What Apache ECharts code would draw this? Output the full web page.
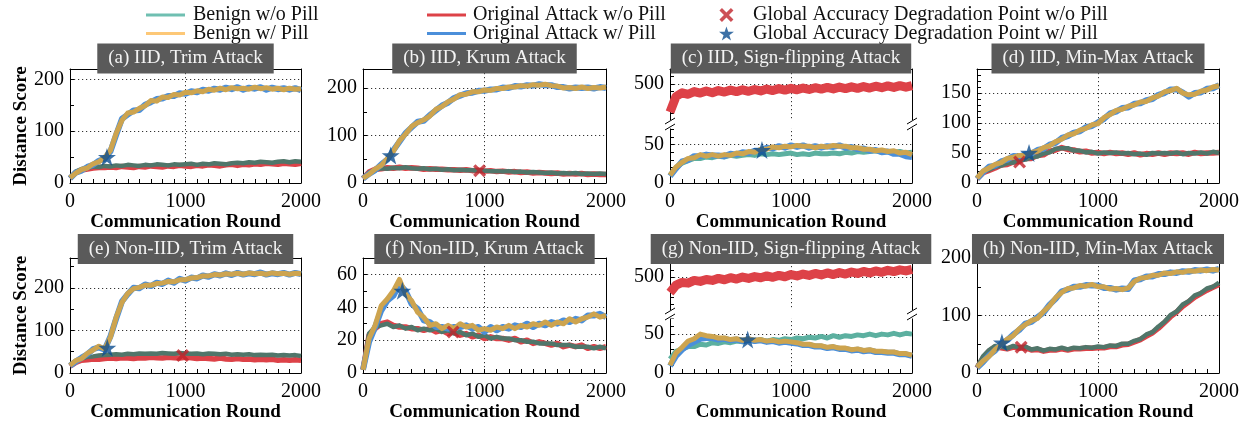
<!DOCTYPE html>
<html><head><meta charset="utf-8">
<script src="https://cdn.jsdelivr.net/npm/echarts@6/dist/echarts.min.js"></script>
<style>html,body{margin:0;padding:0;background:#fff}#c{width:1250px;height:426px}</style>
</head><body><div id="c"></div>
<script>
// ---------- data ----------
const rounds = [0,50,100,150,200,250,300,350,400,450,500,550,600,650,700,750,800,850,900,950,1000,1050,1100,1150,1200,1250,1300,1350,1400,1450,1500,1550,1600,1650,1700,1750,1800,1850,1900,1950,2000];
const xTickLabels = [0,1000,2000];

// (a) IID, Trim Attack
const benignWoA = [10,22,27,29,32,31,33,32,34,33,35,34,33,35,34,36,35,34,36,35,36,37,35,37,36,38,37,36,38,39,38,40,39,41,40,39,41,42,40,42,41];
const benignWA  = [10,19,26,29,37,41,49,63,96,121,135,137,144,149,159,158,166,165,171,170,175,174,178,176,181,179,183,180,184,182,183,181,185,182,184,181,183,180,183,181,182];
const attackWoA = [9,20,25,27,29,30,30,31,30,32,31,30,32,31,33,32,31,33,32,34,33,32,34,33,35,34,33,35,36,34,36,35,37,36,38,37,36,38,37,36,38];
const attackWA  = [9,20,24,31,35,43,47,61,93,124,132,140,141,151,156,162,163,168,168,173,172,177,175,180,178,182,180,184,181,185,180,184,182,185,180,184,181,183,180,183,179];
const starA = [320,50];

// (b) IID, Krum Attack
const benignWoB = [10,22,28,31,30,32,31,33,31,30,31,29,30,28,29,27,28,27,27,26,26,25,25,24,25,23,24,22,23,22,21,22,20,21,20,21,19,20,19,20,19];
const benignWB  = [10,18,29,37,51,67,89,103,119,127,133,141,155,161,171,177,186,187,192,192,196,195,199,199,202,202,205,204,207,206,208,205,204,200,201,199,202,199,201,200,202];
const attackWoB = [9,23,29,30,32,31,33,31,32,31,29,30,29,29,28,28,27,28,26,27,25,26,24,25,23,24,22,23,21,22,21,20,21,19,20,19,20,18,19,18,18];
const attackWB  = [9,19,27,39,49,69,87,105,117,129,131,143,153,163,169,179,184,189,190,194,194,197,197,201,200,204,203,206,205,208,206,206,202,202,199,201,200,201,199,202,200];
const starB = [228,58];
const crossB = [960,26];

// (c) IID, Sign-flipping Attack
const benignWoC = [10,20,26,29,32,32,34,33,35,34,36,35,36,37,36,38,37,38,37,38,39,37,38,37,39,38,38,39,38,40,39,41,40,41,42,40,41,40,41,39,40];
const benignWC  = [10,21,27,32,33,37,35,37,35,37,36,39,38,41,40,44,44,47,46,48,47,49,48,48,46,48,47,49,48,48,46,46,44,44,42,43,41,42,39,40,37];
const attackWoC = [310,415,440,430,448,438,452,440,455,445,458,448,460,450,462,452,465,455,468,458,470,460,472,462,474,465,476,466,478,468,480,470,482,472,484,474,486,476,488,478,488];
const attackWC  = [9,19,28,30,35,35,37,36,36,35,38,37,40,39,42,42,46,45,48,46,49,47,49,46,48,46,48,47,49,46,47,44,45,42,43,40,41,38,38,35,34];
const starC = [760,43];

// (d) IID, Min-Max Attack
const benignWoD = [8,19,22,27,29,33,34,38,39,43,44,49,51,57,58,58,54,54,51,52,49,51,50,51,49,50,48,49,47,50,49,50,49,51,48,50,49,51,49,52,50];
const benignWD  = [8,20,25,31,34,41,43,46,46,51,53,59,62,69,73,80,82,88,91,97,99,109,114,121,123,128,130,135,136,142,145,152,154,158,150,147,148,153,155,160,162];
const attackWoD = [7,17,21,25,30,31,35,36,41,41,46,47,53,55,59,56,55,52,53,50,51,49,51,49,50,48,50,47,49,48,50,48,50,49,50,48,51,49,50,50,51];
const attackWD  = [7,18,27,29,36,39,45,44,48,49,55,57,64,67,75,78,84,86,93,95,101,107,116,119,125,126,132,133,138,140,147,150,156,156,151,144,150,151,157,158,163];
const starD = [430,50];
const crossD = [352,35];

// (e) Non-IID, Trim Attack
const benignWoE = [18,28,34,38,39,41,42,43,44,43,45,44,46,45,46,45,47,46,45,47,46,45,46,44,46,45,44,45,43,44,43,44,42,43,42,43,41,42,41,42,40];
const benignWE  = [18,29,34,46,54,63,56,84,131,166,187,198,201,206,206,210,211,215,214,219,219,223,224,228,228,231,230,233,232,234,232,235,233,234,232,235,233,234,232,234,233];
const attackWoE = [16,25,30,31,33,32,34,35,34,36,35,34,36,35,37,36,35,37,36,35,37,36,34,35,34,33,35,33,32,34,32,33,31,32,31,32,30,31,30,31,30];
const attackWE  = [17,27,36,44,56,60,55,86,128,168,185,200,199,208,204,212,209,217,212,221,217,224,222,229,226,232,229,234,230,235,231,234,232,236,231,234,232,235,231,235,232];
const starE = [323,59];
const crossE = [975,41];

// (f) Non-IID, Krum Attack
const benignWoF = [2,24,28,29,30,28,29,27,28,26,27,26,27,25,26,24,25,23,24,22,23,21,22,21,21,20,20,19,19,18,18,18,17,17,17,16,16,16,15,16,15];
const benignWF  = [2,21,29,41,45,50,57,48,44,37,34,29,30,27,29,27,30,28,29,26,27,26,28,27,29,27,29,28,30,29,31,29,31,30,33,31,33,34,36,34,35];
const attackWoF = [2,23,27,30,31,29,28,28,27,27,26,27,25,26,24,25,23,24,22,23,21,22,21,21,20,21,19,20,18,19,18,17,18,16,17,16,17,15,16,15,16];
const attackWF  = [2,19,28,38,44,47,54,50,42,39,32,31,28,28,27,28,28,29,27,28,25,28,26,28,27,29,28,30,28,30,29,31,30,32,31,33,32,35,35,36,34];
const starF = [324,50];
const crossF = [742,25];

// (g) Non-IID, Sign-flipping Attack
const benignWoG = [18,28,31,34,34,37,36,39,38,40,39,41,40,42,41,43,41,43,42,44,43,45,44,46,45,47,45,48,46,48,47,49,48,50,48,50,49,51,49,51,50];
const benignWG  = [10,26,33,41,44,50,48,47,45,45,43,44,42,44,42,43,41,42,40,41,40,39,37,37,35,35,33,34,32,32,30,31,29,30,28,28,27,27,25,25,23];
const attackWoG = [385,440,460,455,475,468,482,475,490,480,495,485,500,490,503,495,508,498,512,502,518,508,522,512,526,515,530,518,533,522,537,526,541,530,545,535,549,540,553,545,556];
const attackWG  = [9,22,30,36,40,44,45,45,43,44,42,43,41,43,41,42,40,41,39,40,39,38,36,36,34,34,32,33,31,31,29,30,28,29,27,27,26,26,24,24,22];
const starG = [642,43];

// (h) Non-IID, Min-Max Attack
const benignWoH = [10,29,40,47,46,43,47,44,46,41,43,39,42,41,44,41,44,43,45,44,46,45,48,47,51,51,56,59,67,71,81,89,101,107,119,125,135,139,147,150,157];
const benignWH  = [10,21,29,41,49,59,65,77,84,91,95,107,117,131,140,147,148,152,151,154,150,150,146,147,145,148,159,165,166,170,170,174,173,176,175,178,177,179,178,180,179];
const attackWoH = [9,26,38,45,44,42,45,43,44,40,41,38,40,40,42,40,42,42,43,43,44,44,46,46,49,50,54,58,64,70,78,88,98,106,116,124,132,138,144,149,154];
const attackWH  = [9,19,31,39,51,57,67,75,86,89,97,105,119,129,142,145,150,150,153,152,152,148,148,145,147,146,161,163,168,168,172,172,175,174,177,176,179,178,180,178,181];
const starH = [206,53];
const crossH = [365,45];

const titles = ['(a) IID, Trim Attack','(b) IID, Krum Attack','(c) IID, Sign-flipping Attack','(d) IID, Min-Max Attack',
                '(e) Non-IID, Trim Attack','(f) Non-IID, Krum Attack','(g) Non-IID, Sign-flipping Attack','(h) Non-IID, Min-Max Attack'];
const NAMES = ['Benign w/o Pill','Benign w/ Pill','Original Attack w/o Pill','Original Attack w/ Pill',
               'Global Accuracy Degradation Point w/o Pill','Global Accuracy Degradation Point w/ Pill'];

// ---------- style / layout ----------
const FONT = 'Liberation Serif';
const TEAL_LEG='#6fbfb1', TEAL_DARK='#50766a', TEAL_PLOT='#5cb0a0';
const GOLD_LEG='#fdc877', GOLD_PLOT='#cda44f';
const RED='#dd4248', BLUE='#4b8fda', STAR_C='#0c4d90', CROSS_C='#c1232b';
const STAR_PATH='path://M50,0 L61.8,35.1 L98.9,35.1 L68.9,56.8 L80.3,91.9 L50,70.2 L19.7,91.9 L31.1,56.8 L1.1,35.1 L38.2,35.1 Z';
const CROSS_PATH='path://M0,18 L18,0 L50,32 L82,0 L100,18 L68,50 L100,82 L82,100 L50,68 L18,100 L0,82 L32,50 Z';
const tickRich = {t:{fontFamily:FONT,fontSize:20,color:'#000',fontWeight:'normal'}};

const cols = [[70,301],[363,606],[670,912],[977,1219]];
const rowsL = [{top:69,bottom:183,upBottom:121,lowTop:127,titleY:58.5},{top:258,bottom:373,upBottom:311,lowTop:317,titleY:249}];

const panels = [
 {col:0,row:0,max:220,major:100,minor:50,d:[benignWoA,benignWA,attackWoA,attackWA],star:starA,cross:null,yName:true},
 {col:1,row:0,max:240,major:100,minor:50,d:[benignWoB,benignWB,attackWoB,attackWB],star:starB,cross:crossB},
 {col:2,row:0,max:73,major:50,minor:10,broken:true,upMin:250,upMax:600,upMajor:250,d:[benignWoC,benignWC,attackWoC,attackWC],star:starC,cross:null},
 {col:3,row:0,max:190,major:50,minor:10,d:[benignWoD,benignWD,attackWoD,attackWD],star:starD,cross:crossD},
 {col:0,row:1,max:270,major:100,minor:50,d:[benignWoE,benignWE,attackWoE,attackWE],star:starE,cross:crossE,yName:true},
 {col:1,row:1,max:70,major:20,minor:10,d:[benignWoF,benignWF,attackWoF,attackWF],star:starF,cross:crossF},
 {col:2,row:1,max:72,major:50,minor:10,broken:true,upMin:250,upMax:640,upMajor:250,d:[benignWoG,benignWG,attackWoG,attackWG],star:starG,cross:null},
 {col:3,row:1,max:200,major:100,minor:50,d:[benignWoH,benignWH,attackWoH,attackWH],star:starH,cross:crossH}
];

const grids=[], xAxes=[], yAxes=[], series=[], graphics=[];
const axisLineS = {show:true,onZero:false,lineStyle:{color:'#000',width:1}};
const dotted = {show:true,lineStyle:{type:[1.2,2.8],color:'#333',width:1}};

function addGridAxes(L,R,T,B,o){
  const gi = grids.length;
  grids.push({left:L,top:T,width:R-L,height:B-T,containLabel:false,outerBoundsMode:'none'});
  const xi = xAxes.length;
  xAxes.push({type:'value',gridIndex:gi,position:'bottom',min:0,max:2000,interval:100,
    axisLine:{...axisLineS,show:o.bottom},
    axisTick:{show:o.bottom,inside:true,length:4,lineStyle:{color:'#000'}},
    axisLabel:{show:o.bottom,margin:9,color:'#000',fontSize:20,fontFamily:FONT,rich:tickRich,
      formatter:v=>xTickLabels.includes(v)?'{t|'+v+'}':''},
    splitLine:{show:false},
    name:o.bottom?'Communication Round':'',nameLocation:'middle',nameGap:27,
    nameTextStyle:{color:'#000',fontSize:19,fontFamily:FONT,fontWeight:'bold'}});
  xAxes.push({type:'value',gridIndex:gi,position:'top',min:0,max:2000,interval:1000,
    axisLine:axisLineS,axisTick:{show:false},axisLabel:{show:false},splitLine:dotted});
  const yi = yAxes.length;
  yAxes.push({type:'value',gridIndex:gi,position:'left',min:o.min,max:o.max,interval:o.minor,
    axisLine:axisLineS,axisTick:{show:true,inside:true,length:4,lineStyle:{color:'#000'}},
    axisLabel:{show:true,margin:6,color:'#000',fontSize:20,fontFamily:FONT,rich:tickRich,
      formatter:v=>o.labels.includes(v)?'{t|'+v+'}':''},
    splitLine:{show:false},
    name:o.yName?'Distance Score':'',nameLocation:'middle',nameGap:38,nameRotate:90,
    nameTextStyle:{color:'#000',fontSize:19,fontFamily:FONT,fontWeight:'bold'}});
  yAxes.push({type:'value',gridIndex:gi,position:'right',min:o.min,max:o.max,interval:o.major,
    axisLine:axisLineS,axisTick:{show:false},axisLabel:{show:false},splitLine:dotted});
  return {xi,yi};
}
function lineS(name,vals,color,width,ax,z){
  series.push({type:'line',name,xAxisIndex:ax.xi,yAxisIndex:ax.yi,
    data:rounds.map((r,i)=>[r,vals[i]]),symbol:'none',showSymbol:false,
    lineStyle:{color,width,join:'round'},itemStyle:{color},z,silent:true,animation:false});
}
function markS(kind,pt,ax){
  if(!pt) return;
  const isStar = kind==='star';
  series.push({type:'scatter',name:isStar?NAMES[5]:NAMES[4],xAxisIndex:ax.xi,yAxisIndex:ax.yi,
    data:[pt],symbol:isStar?STAR_PATH:CROSS_PATH,symbolSize:isStar?18:13,
    itemStyle:{color:isStar?STAR_C:CROSS_C},z:20,silent:true,animation:false});
}

panels.forEach((p,idx)=>{
  const [L,R]=cols[p.col]; const rl=rowsL[p.row];
  const labelsLow=[]; for(let v=0;v<=p.max;v+=p.major) labelsLow.push(v);
  if(!p.broken){
    const ax = addGridAxes(L,R,rl.top,rl.bottom,{bottom:true,min:0,max:p.max,minor:p.minor,major:p.major,labels:labelsLow,yName:p.yName});
    lineS(NAMES[2],p.d[2],RED,5.5,ax,2);
    lineS(NAMES[0],p.d[0],TEAL_DARK,4.5,ax,3);
    lineS(NAMES[3],p.d[3],BLUE,6,ax,4);
    lineS(NAMES[1],p.d[1],GOLD_PLOT,5,ax,5);
    markS('cross',p.cross,ax); markS('star',p.star,ax);
  } else {
    const up = addGridAxes(L,R,rl.top,rl.upBottom,{bottom:false,min:p.upMin,max:p.upMax,minor:50,major:p.upMajor,labels:[500]});
    const low = addGridAxes(L,R,rl.lowTop,rl.bottom,{bottom:true,min:0,max:p.max,minor:p.minor,major:p.major,labels:labelsLow});
    lineS(NAMES[2],p.d[2],RED,9,up,2);
    lineS(NAMES[0],p.d[0],TEAL_PLOT,5,low,3);
    lineS(NAMES[3],p.d[3],BLUE,6,low,4);
    lineS(NAMES[1],p.d[1],GOLD_PLOT,5,low,5);
    markS('cross',p.cross,low); markS('star',p.star,low);
    // hide the inner borders of the broken axis and draw break marks
    graphics.push({type:'rect',silent:true,z:50,shape:{x:L-6,y:rl.upBottom-1,width:R-L+12,height:rl.lowTop-rl.upBottom+2.5},style:{fill:'#fff'}});
    [L,R].forEach(x0=>[rl.upBottom,rl.lowTop].forEach(y0=>{
      graphics.push({type:'line',silent:true,z:51,shape:{x1:x0-5,y1:y0+3,x2:x0+5,y2:y0-3},style:{stroke:'#000',lineWidth:1}});
    }));
  }
  graphics.push({type:'text',silent:true,z:100,x:(L+R)/2,y:rl.titleY,
    style:{text:titles[idx],font:'19px "Liberation Serif"',fill:'#f4f4f4',backgroundColor:'#5a5a5a',
      padding:[6,11,5,11],align:'center',verticalAlign:'middle'}});
});

const legTS = {fontFamily:FONT,fontSize:20,color:'#111',lineHeight:19};
const option = {
  animation:false,
  backgroundColor:'#fff',
  textStyle:{fontFamily:FONT},
  grid:grids, xAxis:xAxes, yAxis:yAxes, series,
  graphic:graphics,
  legend:[
    {orient:'vertical',left:141,top:0,itemWidth:39,itemHeight:3,itemGap:-1.5,selectedMode:false,
     textStyle:{...legTS,padding:[0,0,0,3]},
     data:[{name:NAMES[0],icon:'rect',itemStyle:{color:TEAL_LEG}},{name:NAMES[1],icon:'rect',itemStyle:{color:GOLD_LEG}}]},
    {orient:'vertical',left:422,top:0,itemWidth:39,itemHeight:3,itemGap:-1.5,selectedMode:false,
     textStyle:{...legTS,padding:[0,0,0,2]},
     data:[{name:NAMES[2],icon:'rect',itemStyle:{color:RED}},{name:NAMES[3],icon:'rect',itemStyle:{color:BLUE}}]},
    {orient:'vertical',left:714,top:0,itemWidth:15,itemHeight:14,itemGap:-1.5,selectedMode:false,
     textStyle:{...legTS,padding:[0,0,0,14]},
     data:[{name:NAMES[4],icon:CROSS_PATH,itemStyle:{color:CROSS_C}},{name:NAMES[5],icon:STAR_PATH,itemStyle:{color:STAR_C}}]}
  ]
};
const chart = echarts.init(document.getElementById('c'),null,{renderer:'canvas'});
chart.setOption(option);
</script>
</body></html>
